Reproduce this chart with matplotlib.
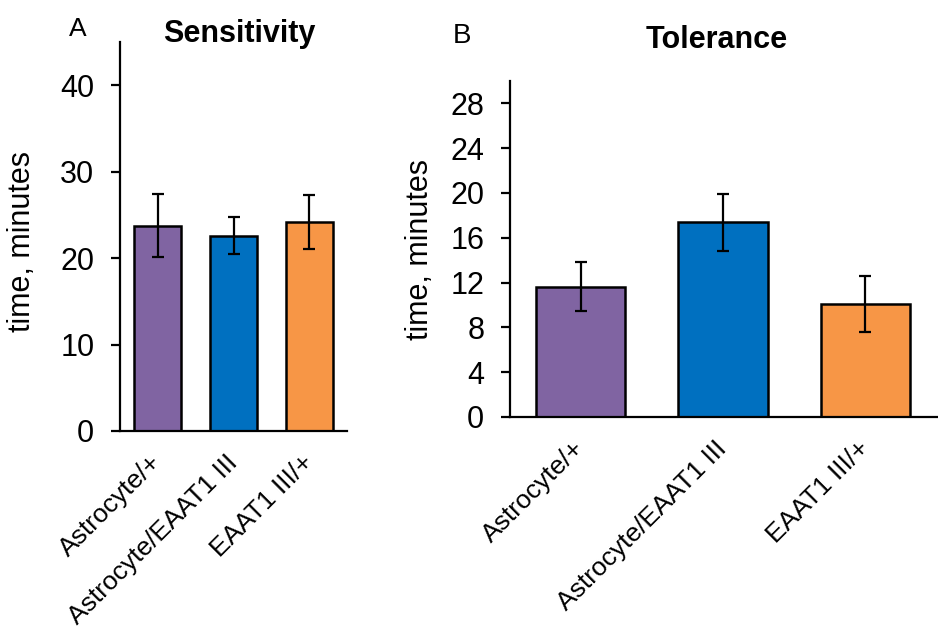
import numpy as np
import matplotlib.pyplot as plt

plt.rcParams['font.family'] = ['Liberation Sans', 'DejaVu Sans']

# data
genotypes = ['Astrocyte/+', 'Astrocyte/EAAT1 III', 'EAAT1 III/+']
colors = ['#8064A2', '#0070C0', '#F79646']

sens_mean = [23.75, 22.6, 24.15]
sens_err = [3.65, 2.15, 3.15]

tol_mean = [11.65, 17.4, 10.1]
tol_err = [2.2, 2.55, 2.5]

fig = plt.figure(figsize=(9.38, 6.3), dpi=100)

# axes placed to match the reference layout (pixel based)
W, H = 938, 630
axA = fig.add_axes([120 / W, 1 - 431 / H, 227 / W, 389 / H])
axB = fig.add_axes([510 / W, 1 - 417 / H, 428 / W, 336 / H])

def style(ax):
    for s in ['top', 'right']:
        ax.spines[s].set_visible(False)
    for s in ['left', 'bottom']:
        ax.spines[s].set_linewidth(1.6)
    ax.tick_params(axis='y', direction='out', length=6.5, width=1.6,
                   labelsize=22, pad=12)
    ax.tick_params(axis='x', length=0, pad=20)

x = np.arange(len(genotypes))

# A: Sensitivity
axA.bar(x, sens_mean, width=0.62, color=colors, edgecolor='black',
        linewidth=1.8, zorder=2)
axA.errorbar(x, sens_mean, yerr=sens_err, fmt='none', ecolor='black',
             elinewidth=1.6, capsize=4.2, capthick=1.6, zorder=3)
axA.set_xlim(-0.5, 2.5)
axA.set_ylim(0, 45)
axA.set_yticks([0, 10, 20, 30, 40])
style(axA)
axA.set_xticks(x)
axA.set_xticklabels(genotypes, rotation=45, ha='right', va='center',
                    rotation_mode='anchor', fontsize=19)
axA.set_ylabel('time, minutes', fontsize=22)
axA.yaxis.set_label_coords(-0.366, 0.486)

# B: Tolerance
axB.bar(x, tol_mean, width=0.63, color=colors, edgecolor='black',
        linewidth=1.8, zorder=2)
axB.errorbar(x, tol_mean, yerr=tol_err, fmt='none', ecolor='black',
             elinewidth=1.6, capsize=4.2, capthick=1.6, zorder=3)
axB.set_xlim(-0.496, 2.51)
axB.set_ylim(0, 30)
axB.set_yticks(np.arange(0, 29, 4))
style(axB)
axB.set_xticks(x)
axB.set_xticklabels(genotypes, rotation=45, ha='right', va='center',
                    rotation_mode='anchor', fontsize=19)
axB.set_ylabel('time, minutes', fontsize=22)
axB.yaxis.set_label_coords(-0.175, 0.5)

# titles and panel letters
fig.text(239 / W, 1 - 42 / H, 'Sensitivity', fontsize=22, fontweight='bold',
         ha='center', va='baseline')
fig.text(717 / W, 1 - 48 / H, 'Tolerance', fontsize=22, fontweight='bold',
         ha='center', va='baseline')
fig.text(78 / W, 1 - 29 / H, 'A', fontsize=19, ha='center', va='center')
fig.text(462 / W, 1 - 36 / H, 'B', fontsize=20, ha='center', va='center')

fig.savefig('out.png', dpi=100)
